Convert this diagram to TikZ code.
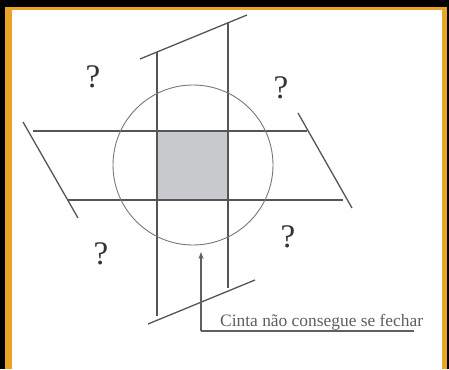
\documentclass[tikz,border=0pt]{standalone}
\usepackage{fontspec}
\setmainfont{Liberation Serif}
\usetikzlibrary{arrows.meta}
\definecolor{frameorange}{RGB}{232,163,40}
\definecolor{bandline}{RGB}{85,85,85}
\definecolor{circline}{RGB}{120,120,120}
\definecolor{squarefill}{RGB}{200,201,204}
\definecolor{labelgrey}{RGB}{95,95,95}
\tikzset{
  bandstroke/.style={draw=bandline, line width=1.3pt},
  circstroke/.style={draw=circline, line width=0.9pt},
  qmark/.style={text=black!80, font=\fontsize{33}{33}\selectfont, inner sep=0pt},
  labeltext/.style={text=labelgrey, font=\fontsize{17.4}{17.4}\selectfont, inner sep=0pt, anchor=base west},
  pointer/.style={draw=labelgrey, line width=1.1pt}
}
\begin{document}
\begin{tikzpicture}[x=1pt, y=-1pt]
\useasboundingbox (0,0) rectangle (449,369);
% frame
\fill[black] (0,0) rectangle (449,369);
\fill[frameorange] (5,7) rectangle (447,369);
\fill[white] (12,10) rectangle (442,369);
% grey square
\fill[squarefill] (157,131) rectangle (228,200);
% horizontal band
\draw[bandstroke] (33,131) -- (307,131);
\draw[bandstroke] (68,200) -- (343,200);
\draw[bandstroke] (23,122) -- (78,218);
\draw[bandstroke] (298,113) -- (352,208);
% vertical band
\draw[bandstroke] (157,52) -- (157,316);
\draw[bandstroke] (228,23) -- (228,288);
\draw[bandstroke] (140,59) -- (247,15);
\draw[bandstroke] (148,324) -- (255,280);
% circle
\draw[circstroke] (193,165) circle[radius=80];
% question marks
\node[qmark] (q1) at (93,77) {?};
\node[qmark] (q2) at (281,88) {?};
\node[qmark] (q3) at (101,254) {?};
\node[qmark] (q4) at (288,237) {?};
% label
\node[labeltext] (lbl) at (220,326) {Cinta não consegue se fechar};
\coordinate (corner) at (201,331);
\coordinate (lineend) at (414,331);
\coordinate (tip) at (201,252);
\draw[pointer] (lineend) -- (corner);
\draw[pointer, -{Stealth[length=7pt,width=5pt]}] (corner) -- (tip);
\end{tikzpicture}
\end{document}
